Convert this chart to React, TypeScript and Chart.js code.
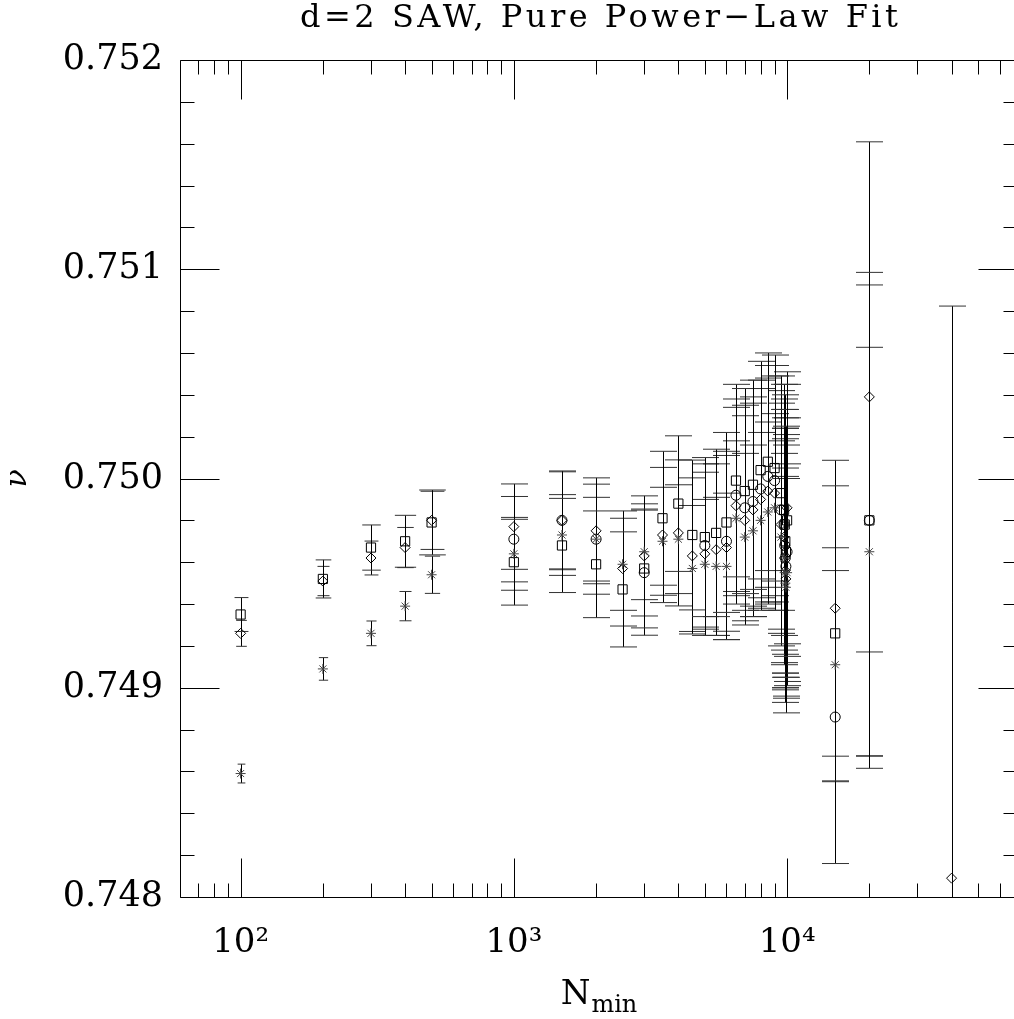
import React, { useEffect, useRef } from 'react';
import { Chart, registerables } from 'chart.js';

Chart.register(...registerables);

const FONT = '"DejaVu Serif", "Liberation Serif", serif';

const TITLE = 'd=2 SAW, Pure Power\u2212Law Fit';
const X_LABEL_MAIN = 'N';
const X_LABEL_SUB = 'min';
const Y_LABEL = '\u03bd';

const X_MIN = 60;
const X_MAX = 70000;
const Y_MIN = 0.748;
const Y_MAX = 0.752;
const X_MAJOR_TICKS = [100, 1000, 10000];
const X_TICK_LABELS = ['10\u00b2', '10\u00b3', '10\u2074'];
const X_MINOR_TICKS = [
  70, 80, 90,
  200, 300, 400, 500, 600, 700, 800, 900,
  2000, 3000, 4000, 5000, 6000, 7000, 8000, 9000,
  20000, 30000, 40000, 50000, 60000,
];
const Y_MAJOR_TICKS = [0.748, 0.749, 0.75, 0.751, 0.752];
const Y_TICK_LABELS = ['0.748', '0.749', '0.750', '0.751', '0.752'];
const Y_MINOR_TICKS = [
  0.7482, 0.7484, 0.7486, 0.7488,
  0.7492, 0.7494, 0.7496, 0.7498,
  0.7502, 0.7504, 0.7506, 0.7508,
  0.7512, 0.7514, 0.7516, 0.7518,
];

const N_MIN = [
  100, 200, 300, 400, 500, 1000, 1500, 2000, 2500, 3000, 3500, 4000, 4500, 5000, 5500,
  6000, 6500, 7000, 7500, 8000, 8500, 9000, 9500, 9750, 9800, 9850, 9900, 10000,
  15000, 20000, 40000,
];

const NU_SQUARE = [
  0.74935, 0.74952, 0.74967, 0.7497, 0.74979, 0.7496, 0.74968, 0.74959, 0.74947, 0.74957,
  0.74981, 0.74988, 0.74973, 0.74972, 0.74974, 0.74979, 0.74999, 0.74994, 0.74997, 0.75004,
  0.75008, 0.75005, 0.74993, 0.74985, 0.74978, 0.7497, 0.74965, 0.7498, 0.74926, 0.7498, null,
];
const ERR_SQUARE = [
  0.000081, 0.000091, 0.000108, 0.000124, 0.000155, 0.000205, 0.000225, 0.000255, 0.000275, 0.000284,
  0.00032, 0.000324, 0.000358, 0.00038, 0.0004, 0.00043, 0.00046, 0.00049, 0.0005, 0.00052,
  0.00052, 0.00054, 0.00056, 0.0006, 0.00062, 0.00063, 0.0006, 0.00065, 0.000705, 0.001185, null,
];

const NU_DIAMOND = [
  0.74926, 0.74951, 0.74962, 0.74967, 0.7498, 0.74977, 0.7498, 0.74975, 0.74957, 0.74963,
  0.74973, 0.74974, 0.74963, 0.74964, 0.74966, 0.74967, 0.74987, 0.7498, 0.74985, 0.7499,
  0.74994, 0.74993, 0.74978, 0.74972, 0.74962, 0.74956, 0.74952, 0.74986, 0.74938, 0.75039, 0.74809,
];
const ERR_DIAMOND = [
  0.000062, 0.00007, 0.000081, 0.000096, 0.000139, 0.000204, 0.000236, 0.000253, 0.000275, 0.000287,
  0.000323, 0.000349, 0.000373, 0.00039, 0.00041, 0.00044, 0.00047, 0.0005, 0.00051, 0.00053,
  0.00054, 0.00056, 0.00058, 0.00061, 0.00062, 0.00063, 0.00064, 0.00065, 0.000707, 0.001219, 0.002734,
];

const NU_CIRCLE = [
  null, null, null, null, null, 0.74971, 0.7498, 0.74971, null, 0.74955,
  null, null, null, 0.74968, null, 0.7497, 0.74992, 0.74986, 0.74989, 0.74995,
  0.75001, 0.74999, 0.74985, 0.74978, 0.74968, 0.74962, 0.74958, 0.74965, 0.74886, 0.7498, null,
];
const ERR_CIRCLE = [
  null, null, null, null, null, 0.000204, 0.000232, 0.000263, null, 0.000299,
  null, null, null, 0.00039, null, 0.00043, 0.00046, 0.00049, 0.0005, 0.00052,
  0.00053, 0.00055, 0.00057, 0.0006, 0.00061, 0.00062, 0.00063, 0.00064, 0.0007, 0.001125, null,
];

const NU_STAR = [
  0.74859, 0.74909, 0.74926, 0.74939, 0.74954, 0.74964, 0.74973, 0.74971, 0.74959, 0.74965,
  0.7497, 0.74971, 0.74957, 0.74959, 0.74958, 0.74958, 0.74981, 0.74972, 0.74975, 0.7498,
  0.74984, 0.74986, 0.74972, 0.74962, 0.74955, 0.7495, 0.74948, 0.74955, 0.74911, 0.74965, null,
];
const ERR_STAR = [
  0.000045, 0.000054, 0.000059, 0.00007, 0.000089, 0.000174, 0.000193, 0.0002, 0.00022, 0.000229,
  0.000258, 0.00026, 0.000301, 0.00031, 0.00033, 0.00035, 0.00037, 0.0004, 0.00041, 0.00042,
  0.00043, 0.00045, 0.00046, 0.0005, 0.0005, 0.00051, 0.00052, 0.00052, 0.000559, 0.000977, null,
];

function buildSeries(values: (number | null)[], errors: (number | null)[]) {
  const data: { x: number; y: number }[] = [];
  const errs: number[] = [];
  N_MIN.forEach((n, i) => {
    const v = values[i];
    const e = errors[i];
    if (v !== null && v !== undefined) {
      data.push({ x: n, y: v });
      errs.push(e ?? 0);
    }
  });
  return { data, errs };
}

const errorBarPlugin = {
  id: 'errorBars',
  beforeDatasetsDraw(chart: any) {
    const { ctx, chartArea: a, scales } = chart;
    const xs = scales.x;
    const ys = scales.y;
    ctx.save();
    ctx.beginPath();
    ctx.rect(a.left, a.top, a.right - a.left, a.bottom - a.top);
    ctx.clip();
    ctx.lineWidth = 1;
    chart.data.datasets.forEach((ds: any) => {
      const errs: number[] = ds.errorBars;
      if (!errs) return;
      ds.data.forEach((p: any, j: number) => {
        const e = errs[j];
        const px = Math.round(xs.getPixelForValue(p.x)) + 0.5;
        const yTop = ys.getPixelForValue(p.y + e);
        const yBot = ys.getPixelForValue(p.y - e);
        const half = (yBot - yTop) / 2;
        const cap = Math.min(13.5, 0.41 * half);
        ctx.strokeStyle = '#000';
        ctx.beginPath();
        ctx.moveTo(px, yTop);
        ctx.lineTo(px, yBot);
        ctx.stroke();
        ctx.strokeStyle = '#333';
        ctx.beginPath();
        ctx.moveTo(px - cap, yTop);
        ctx.lineTo(px + cap, yTop);
        ctx.moveTo(px - cap, yBot);
        ctx.lineTo(px + cap, yBot);
        ctx.stroke();
      });
    });
    ctx.restore();
  },
};

const framePlugin = {
  id: 'frameTicks',
  afterDraw(chart: any) {
    const { ctx, chartArea: a, scales } = chart;
    ctx.save();
    ctx.strokeStyle = '#000';
    ctx.lineWidth = 1;
    const line = (x1: number, y1: number, x2: number, y2: number) => {
      ctx.beginPath();
      ctx.moveTo(x1, y1);
      ctx.lineTo(x2, y2);
      ctx.stroke();
    };
    const L = a.left + 0.5;
    const R = a.right - 0.5;
    const T = a.top + 0.5;
    const B = a.bottom + 0.5;
    line(L, T, R, T);
    line(L, B, R, B);
    line(L, T, L, B);
    line(R, T, R, B);
    const xTick = (v: number, len: number) => {
      const x = Math.round(scales.x.getPixelForValue(v)) + 0.5;
      line(x, B, x, B - len);
      line(x, T, x, T + len);
    };
    const yTick = (v: number, len: number) => {
      const y = Math.round(scales.y.getPixelForValue(v)) + 0.5;
      line(L, y, L + len, y);
      line(R, y, R - len, y);
    };
    X_MAJOR_TICKS.forEach((v) => xTick(v, 39));
    X_MINOR_TICKS.forEach((v) => xTick(v, 14));
    Y_MAJOR_TICKS.forEach((v) => yTick(v, 39));
    Y_MINOR_TICKS.forEach((v) => yTick(v, 14));

    const cx = (a.left + a.right) / 2;
    ctx.fillStyle = '#000';

    // title, widened with letter spacing like the plotted stroke font
    ctx.font = `32px ${FONT}`;
    ctx.textAlign = 'center';
    ctx.textBaseline = 'middle';
    try {
      (ctx as any).letterSpacing = '3.5px';
    } catch (e) {
      /* ignore */
    }
    ctx.fillText(TITLE, cx + 1.75, 19);
    try {
      (ctx as any).letterSpacing = '0px';
    } catch (e) {
      /* ignore */
    }

    // x-axis title with subscript
    ctx.textBaseline = 'alphabetic';
    ctx.textAlign = 'left';
    ctx.font = `34px ${FONT}`;
    const wN = ctx.measureText(X_LABEL_MAIN).width;
    ctx.font = `24px ${FONT}`;
    const wS = ctx.measureText(X_LABEL_SUB).width;
    const x0 = cx - (wN + wS + 1) / 2;
    ctx.font = `34px ${FONT}`;
    ctx.fillText(X_LABEL_MAIN, x0, 1004);
    ctx.font = `24px ${FONT}`;
    ctx.fillText(X_LABEL_SUB, x0 + wN + 1, 1012);
    ctx.restore();
  },
};

export default function App() {
  const ref = useRef<HTMLCanvasElement | null>(null);

  useEffect(() => {
    const canvas = ref.current;
    if (!canvas) return;
    const sq = buildSeries(NU_SQUARE, ERR_SQUARE);
    const di = buildSeries(NU_DIAMOND, ERR_DIAMOND);
    const ci = buildSeries(NU_CIRCLE, ERR_CIRCLE);
    const st = buildSeries(NU_STAR, ERR_STAR);

    const common = {
      showLine: false,
      borderColor: '#000',
      backgroundColor: 'rgba(0,0,0,0)',
      pointBackgroundColor: 'rgba(0,0,0,0)',
      pointBorderWidth: 1,
      pointHoverRadius: 0,
    };

    const chart = new Chart(canvas, {
      type: 'scatter',
      data: {
        datasets: [
          { ...common, label: 'star', data: st.data, errorBars: st.errs, pointStyle: 'star', pointRadius: 5, pointBorderColor: '#444' } as any,
          { ...common, label: 'circle', data: ci.data, errorBars: ci.errs, pointStyle: 'circle', pointRadius: 5, pointBorderColor: '#000' } as any,
          { ...common, label: 'diamond', data: di.data, errorBars: di.errs, pointStyle: 'rectRot', pointRadius: 5, pointBorderColor: '#000' } as any,
          { ...common, label: 'square', data: sq.data, errorBars: sq.errs, pointStyle: 'rect', pointRadius: 6.5, pointBorderColor: '#000' } as any,
        ],
      },
      options: {
        responsive: false,
        animation: false,
        devicePixelRatio: 1,
        events: [],
        layout: { padding: { top: 60, right: 22, left: 0, bottom: 0 } },
        plugins: {
          legend: { display: false },
          tooltip: { enabled: false },
          title: { display: false },
        },
        scales: {
          x: {
            type: 'logarithmic',
            position: 'bottom',
            min: X_MIN,
            max: X_MAX,
            grid: { display: false, drawTicks: false },
            border: { display: false },
            afterFit: (s: any) => {
              s.height = 122;
            },
            afterBuildTicks: (s: any) => {
              s.ticks = X_MAJOR_TICKS.map((v) => ({ value: v }));
            },
            ticks: {
              autoSkip: false,
              maxRotation: 0,
              minRotation: 0,
              padding: 26,
              color: '#000',
              font: { family: FONT, size: 34 },
              callback: (v: any) => {
                const i = X_MAJOR_TICKS.indexOf(Number(v));
                return i >= 0 ? X_TICK_LABELS[i] : '';
              },
            },
          },
          y: {
            type: 'linear',
            position: 'left',
            min: Y_MIN,
            max: Y_MAX,
            grid: { display: false, drawTicks: false },
            border: { display: false },
            afterFit: (s: any) => {
              s.width = 180;
            },
            afterBuildTicks: (s: any) => {
              s.ticks = Y_MAJOR_TICKS.map((v) => ({ value: v }));
            },
            ticks: {
              padding: 17,
              color: '#000',
              font: { family: FONT, size: 35 },
              callback: (v: any) => {
                const i = Y_MAJOR_TICKS.findIndex((t) => Math.abs(t - Number(v)) < 1e-9);
                return i >= 0 ? Y_TICK_LABELS[i] : '';
              },
            },
            title: {
              display: true,
              text: Y_LABEL,
              color: '#000',
              font: { family: FONT, size: 30, style: 'italic' },
              padding: { top: 0, bottom: 0 },
            },
          },
        },
      } as any,
      plugins: [errorBarPlugin, framePlugin],
    });
    return () => {
      chart.destroy();
    };
  }, []);

  return (
    <div
      style={{
        position: 'fixed',
        left: 0,
        top: 0,
        width: '1014px',
        height: '1019px',
        overflow: 'hidden',
        background: '#fff',
      }}
    >
      <canvas ref={ref} width={1040} height={1019} style={{ display: 'block', width: '1040px', height: '1019px' }} />
    </div>
  );
}
